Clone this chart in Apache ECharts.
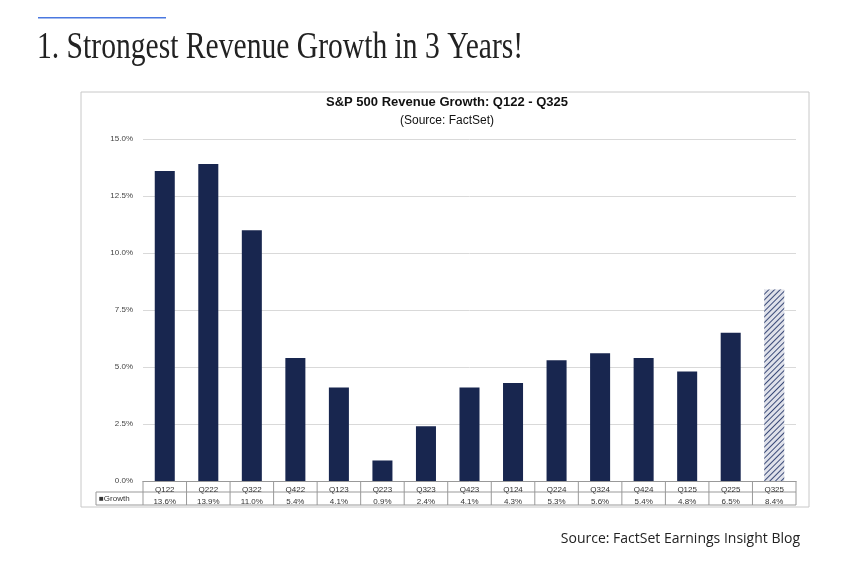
<!DOCTYPE html>
<html><head><meta charset="utf-8">
<script src="https://cdn.jsdelivr.net/npm/echarts@6/dist/echarts.min.js"></script>
<style>html,body{margin:0;padding:0;background:#fff}#c{width:857px;height:568px}</style>
</head><body><div id="c"></div>
<script>
const categories = ['Q122','Q222','Q322','Q422','Q123','Q223','Q323','Q423','Q124','Q224','Q324','Q424','Q125','Q225','Q325'];
const growth = [13.6,13.9,11.0,5.4,4.1,0.9,2.4,4.1,4.3,5.3,5.6,5.4,4.8,6.5,8.4];
const yTicks = [0,2.5,5,7.5,10,12.5,15];
const navy = '#18264f';

const L=143,R=796,T=139,B=481;
const cw=(R-L)/categories.length;
const tableLines=[];
tableLines.push({type:'line',shape:{x1:L,y1:492,x2:R,y2:492},style:{stroke:'#999',lineWidth:1}});
tableLines.push({type:'line',shape:{x1:96,y1:505,x2:R,y2:505},style:{stroke:'#999',lineWidth:1}});
tableLines.push({type:'line',shape:{x1:96,y1:492,x2:L,y2:492},style:{stroke:'#999',lineWidth:1}});
tableLines.push({type:'line',shape:{x1:96,y1:492,x2:96,y2:505},style:{stroke:'#999',lineWidth:1}});
for(let i=0;i<=categories.length;i++){
  tableLines.push({type:'line',shape:{x1:L+i*cw,y1:B,x2:L+i*cw,y2:505},style:{stroke:'#999',lineWidth:1}});
}

const chart = echarts.init(document.getElementById('c'));
chart.setOption({
  animation:false,
  grid:{left:L,right:857-R,top:T,bottom:568-B},
  xAxis:{type:'category',data:categories,
    axisLine:{lineStyle:{color:'#999'}},axisTick:{show:false},
    axisLabel:{interval:0,margin:3,formatter:(v,i)=>'{q|'+v+'}\n{v|'+growth[i].toFixed(1)+'%}',
      rich:{q:{fontSize:8,color:'#333',height:11,fontFamily:'Liberation Sans'},v:{fontSize:8,color:'#333',height:13,fontFamily:'Liberation Sans'}}}},
  yAxis:{type:'value',min:0,max:15,interval:2.5,
    axisLabel:{fontSize:8,color:'#444',margin:10,fontFamily:'Liberation Sans',formatter:v=>v.toFixed(1)+'%'},
    splitLine:{lineStyle:{color:'#d9d9d9'}},axisLine:{show:false}},
  series:[{type:'bar',barWidth:'46%',data:growth.map((v,i)=>i===growth.length-1?
    {value:v,itemStyle:{color:'#dfe1ea',decal:{symbol:'rect',color:'#3a4a78',dashArrayX:[1,0],dashArrayY:[1,2.5],rotation:-Math.PI/4}}}:
    {value:v,itemStyle:{color:navy}})}],
  graphic:[
    {type:'rect',shape:{x:38,y:17,width:128,height:1.5},style:{fill:'#4a78e0'}},
    {type:'text',x:37,y:48,scaleX:0.8,style:{text:'1. Strongest Revenue Growth in 3 Years!',font:'37px "Liberation Serif"',fill:'#222',verticalAlign:'middle'}},
    {type:'rect',shape:{x:81,y:92,width:728,height:415},style:{fill:'none',stroke:'#c8c8c8',lineWidth:1}},
    {type:'text',x:447,y:102,style:{text:'S&P 500 Revenue Growth: Q122 - Q325',font:'bold 13px "Liberation Sans"',fill:'#111',align:'center',verticalAlign:'middle'}},
    {type:'text',x:447,y:121,style:{text:'(Source: FactSet)',font:'12px "Liberation Sans"',fill:'#111',align:'center',verticalAlign:'middle'}},
    {type:'text',x:99,y:499,style:{text:'■Growth',font:'8px "Liberation Sans"',fill:'#333',verticalAlign:'middle'}},
    {type:'text',x:800,y:539,style:{text:'Source: FactSet Earnings Insight Blog',font:'14px "Open Sans"',fill:'#222',align:'right',verticalAlign:'middle'}},
    ...tableLines
  ]
});
</script></body></html>
